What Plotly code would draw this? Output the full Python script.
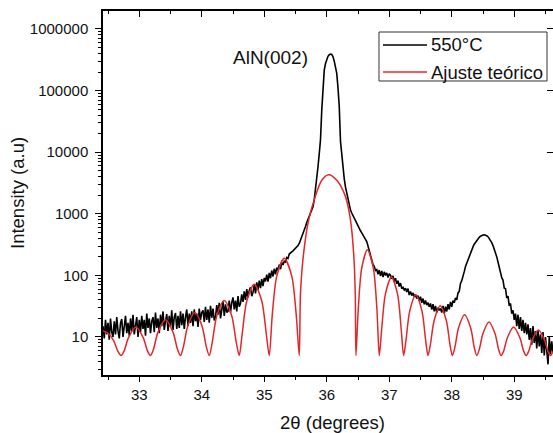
import plotly.graph_objects as go

# --- XRD scan (550 °C film), counts on a regular 0.02° grid starting at 32.42° ---
scan_start = 32.42
scan_step = 0.02
counts_550 = [
    15, 9.5, 19, 11, 17, 9, 20, 12, 10, 18,
    11, 21, 12.5, 9.5, 17, 19.5, 10, 15, 22, 11.5,
    17, 10.5, 20, 12.5, 23, 11, 16.5, 21, 10, 19,
    12, 22, 13.5, 19, 10.5, 24, 14, 20, 11.5, 18,
    21, 12, 25, 14, 20, 11.5, 23, 15, 26, 13,
    18, 23.5, 12.5, 22, 14.5, 27, 13, 21, 24.5, 13.5,
    22, 14, 26, 15.5, 24, 13.5, 21, 28, 15, 24,
    17, 26, 15, 28, 18, 24, 14.5, 29, 19, 25,
    27, 17.5, 31, 19, 28, 17, 32, 20.5, 29, 18.5,
    21, 33, 23, 36, 20, 31, 38, 22, 34, 25,
    26, 39, 25, 36, 44, 28, 39, 26, 46, 31,
    35, 49, 37, 55, 40, 60, 44, 57, 64, 46,
    53, 70, 51, 77, 58, 82, 62, 87, 67, 91,
    80, 103, 79, 110, 90, 120, 96, 128, 104, 134,
    120, 150, 126, 162, 148, 170, 165, 195, 188, 222,
    228, 240, 250, 262, 275, 288, 305, 330, 370, 420,
    480, 550, 620, 720, 820, 930, 1050, 1180, 1300, 1700,
    2400, 3600, 5800, 9500, 16000, 48000, 140000, 215000, 275000, 325000,
    360000, 382000, 392000, 385000, 355000, 300000, 240000, 190000, 110000, 55000,
    15000, 8500, 5200, 3700, 2700, 2100, 1650, 1300, 1150, 1030,
    930, 850, 770, 700, 630, 580, 530, 490, 455, 420,
    390, 355, 300, 250, 205, 175, 150, 140, 120, 124,
    104, 122, 98, 118, 94, 114, 100, 110, 92, 106,
    100, 88, 98, 80, 90, 73, 82, 66, 75, 61,
    64, 58, 62, 54, 61, 48, 55, 47, 52, 45,
    49, 42, 47, 39, 45, 36, 42, 34, 39, 33,
    36, 31, 35, 28, 34, 26, 32, 25, 30, 27,
    29, 25, 32, 24, 31, 26, 34, 28, 37, 31,
    39, 36, 43, 40, 52, 55, 74, 82, 103, 115,
    140, 160, 180, 205, 230, 260, 290, 320, 345, 370,
    395, 415, 432, 445, 452, 455, 450, 440, 425, 400,
    370, 340, 305, 270, 235, 200, 165, 135, 110, 92,
    84, 62, 61, 43, 46, 32, 35, 24, 27, 19,
    24, 15, 23, 13.5, 21, 12.5, 19, 11.5, 17, 11,
    16, 9, 14, 7.5, 15, 8, 12.5, 6.5, 13, 7,
    11, 5.5, 12, 5, 10, 6, 3.6, 10, 5.2, 8.5,
    5.5,
]
two_theta = [round(scan_start + scan_step * i, 2) for i in range(len(counts_550))]

# --- theoretical fit (Laue fringes around AlN(002)) ---
fit_two_theta = [
    32.42, 32.50, 32.59, 32.66, 32.71,
    32.757, 32.828, 32.945, 33.063, 33.133, 33.18,
    33.228, 33.30, 33.42, 33.54, 33.612, 33.66,
    33.706, 33.775, 33.89, 34.005, 34.074, 34.12,
    34.168, 34.24, 34.36, 34.48, 34.552, 34.60,
    34.648, 34.72, 34.84, 34.96, 35.032, 35.08,
    35.128, 35.20, 35.32, 35.44, 35.512, 35.56,
    35.58, 35.63, 35.71, 35.816, 35.92, 36.03, 36.16, 36.30, 36.38, 36.43, 36.456, 36.467,
    36.505, 36.56, 36.65, 36.745, 36.802, 36.84,
    36.879, 36.938, 37.035, 37.133, 37.191, 37.23,
    37.269, 37.328, 37.425, 37.523, 37.581, 37.62,
    37.659, 37.718, 37.815, 37.913, 37.971, 38.01,
    38.049, 38.108, 38.205, 38.303, 38.361, 38.40,
    38.439, 38.498, 38.595, 38.693, 38.751, 38.79,
    38.83, 38.89, 38.99, 39.09, 39.15, 39.19,
    39.229, 39.288, 39.385, 39.483, 39.541, 39.58,
    39.62,
]
fit_counts = [
    12.5, 11.5, 8.7, 5.8, 5,
    5.9, 9.75, 14.5, 9.75, 5.9, 5,
    6.3, 12, 19, 12, 6.3, 5,
    6.9, 15, 25, 15, 6.9, 5,
    8.2, 22, 39, 22, 8.2, 5,
    11.4, 38.5, 72, 38.5, 11.4, 5,
    22.7, 97.5, 190, 97.5, 22.7, 5,
    52, 230, 790, 1900, 3500, 4300, 3500, 1900, 790, 230, 52, 5,
    29, 132, 260, 132, 29, 5,
    13.5, 49.5, 94, 49.5, 13.5, 5,
    9.1, 26.5, 48, 26.5, 9.1, 5,
    7.6, 18.5, 32, 18.5, 7.6, 5,
    6.7, 14, 23, 14, 6.7, 5,
    6.2, 11.25, 17.5, 11.25, 6.2, 5,
    5.9, 9.75, 14.5, 9.75, 5.9, 5,
    5.8, 9, 13, 9, 5.8, 5,
    5.8,
]

series_names = ["550°C", "Ajuste teórico"]
x_ticks = [33, 34, 35, 36, 37, 38, 39]
y_ticks = [10, 100, 1000, 10000, 100000, 1000000]
y_tick_text = ["10", "100", "1000", "10000", "100000", "1000000"]
y_minor = [m * 10 ** k for k in range(0, 7) for m in range(2, 10)]

x_range = [32.42, 39.62]
y_range_log = [0.383, 6.292]

FONT = "Liberation Sans, Arial, sans-serif"
RED = "#e3262a"
COLORS = ["black", RED]

fig = go.Figure()
fig.add_trace(go.Scatter(
    x=two_theta, y=counts_550, mode="lines", name=series_names[0],
    line=dict(color=COLORS[0], width=1.6),
))
fig.add_trace(go.Scatter(
    x=fit_two_theta, y=fit_counts, mode="lines", name=series_names[1],
    line=dict(color=COLORS[1], width=1.5, shape="spline", smoothing=0.8),
))
# carrier for the top / right frame axes
fig.add_trace(go.Scatter(
    x=[two_theta[0], two_theta[-1]], y=[counts_550[0], counts_550[-1]],
    xaxis="x2", yaxis="y2", mode="lines", opacity=0,
    showlegend=False, hoverinfo="skip",
))

# compact boxed legend in the upper right of the plot area
legend_box = dict(x0=0.6133, x1=0.9867, y0=0.8077, y1=0.9423)
legend_rows = [0.9066, 0.8324]
sample_x = (0.6222, 0.7200)
text_x = 0.7244

shapes = [dict(type="rect", xref="paper", yref="paper", line=dict(color="#333", width=1),
               fillcolor="white", layer="above", **legend_box)]
annotations = []
for name, color, row in zip(series_names, COLORS, legend_rows):
    shapes.append(dict(type="line", xref="paper", yref="paper",
                       x0=sample_x[0], x1=sample_x[1], y0=row, y1=row,
                       line=dict(color=color, width=1.6), layer="above"))
    annotations.append(dict(text=name, x=text_x, y=row, xref="paper", yref="paper",
                            xanchor="left", yanchor="middle", showarrow=False,
                            font=dict(family=FONT, size=18.5, color="#111")))

annotations += [
    dict(text="AlN(002)", x=35.10, y=5.53, xref="x", yref="y",
         showarrow=False, font=dict(family=FONT, size=19, color="#111")),
    dict(text="Intensity (a.u)", x=0, y=0.5, xref="paper", yref="paper",
         xshift=-86, textangle=-90, xanchor="center", yanchor="middle",
         showarrow=False, font=dict(family=FONT, size=18.5, color="#111")),
    dict(text="2θ (degrees)", x=0.509, y=0, xref="paper", yref="paper",
         yshift=-47, xanchor="center", yanchor="middle", showarrow=False,
         font=dict(family=FONT, size=18.5, color="#111")),
]

fig.update_layout(
    width=553, height=433,
    margin=dict(l=103, r=0, t=11, b=58),
    paper_bgcolor="white", plot_bgcolor="white",
    font=dict(family=FONT, color="#111"),
    showlegend=False,
    xaxis=dict(
        range=x_range, tickmode="array", tickvals=x_ticks,
        ticks="outside", ticklen=5, tickwidth=1.3, tickcolor="black",
        minor=dict(tick0=32.5, dtick=0.5, ticks="outside", ticklen=3, tickwidth=1.2, tickcolor="black"),
        showline=True, linecolor="black", linewidth=1.5,
        showgrid=False, zeroline=False,
        tickfont=dict(family=FONT, size=15, color="#111"),
    ),
    yaxis=dict(
        type="log", range=y_range_log,
        tickmode="array", tickvals=y_ticks, ticktext=y_tick_text,
        ticks="outside", ticklen=6, tickwidth=1.3, tickcolor="black",
        minor=dict(tickvals=y_minor, ticks="outside", ticklen=3, tickwidth=1, tickcolor="black"),
        showline=True, linecolor="black", linewidth=1.5,
        showgrid=False, zeroline=False,
        tickfont=dict(family=FONT, size=15, color="#111"),
        ticklabelstandoff=4,
    ),
    xaxis2=dict(
        overlaying="x", side="top", anchor="y2", range=x_range,
        tickmode="array", tickvals=x_ticks,
        ticks="inside", ticklen=6, tickwidth=1.3, tickcolor="black",
        minor=dict(tick0=32.5, dtick=0.5, ticks="inside", ticklen=3, tickwidth=1.2, tickcolor="black"),
        showticklabels=False, showline=True, linecolor="black", linewidth=1.5,
        showgrid=False, zeroline=False,
    ),
    yaxis2=dict(
        overlaying="y", side="right", anchor="x2", type="log", range=y_range_log,
        tickmode="array", tickvals=y_ticks,
        ticks="inside", ticklen=6, tickwidth=1.3, tickcolor="black",
        showticklabels=False, showline=False,
        showgrid=False, zeroline=False,
    ),
    shapes=shapes,
    annotations=annotations,
)

fig.write_html("out.html")
